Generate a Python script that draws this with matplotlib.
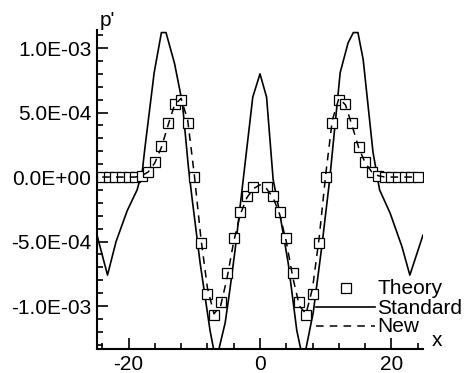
import matplotlib
matplotlib.use("Agg")
import matplotlib.pyplot as plt
from matplotlib.ticker import MultipleLocator, FixedLocator, FixedFormatter

plt.rcParams['font.family'] = ['Liberation Sans', 'DejaVu Sans']

# Standard scheme (solid line), p' in units of 1e-4
std_x = [-24.8, -23.2, -21.9, -20.2, -18.7, -17.9, -17.5, -16.1, -15.0, -14.3,
         -13.0, -11.8, -10.9, -10.3, -9.1, -7.6, -6.7, -5.3, -4.6, -3.8, -2.6,
         -1.1, 0.0, 1.0, 2.0, 3.0, 4.3, 5.6, 6.6, 8.1, 9.4, 10.6, 12.2, 13.4,
         14.2, 14.9, 15.7, 17.2, 18.2, 19.8, 21.6, 22.8, 24.8]
std_p = [-4.5, -7.6, -5.0, -2.6, -1.0, 0.5, 2.3, 8.1, 11.2, 11.2,
         8.8, 5.7, 0.8, -1.8, -6.7, -11.9, -14.3, -11.3, -8.8, -5.7, -0.4,
         6.2, 8.0, 6.2, -0.2, -2.8, -6.7, -11.9, -14.3, -10.5, -5.4, -0.2, 8.1, 10.4,
         11.2, 11.2, 9.1, 1.9, -1.0, -2.8, -5.4, -7.6, -4.5]

# Theory (open squares)
th_x = [-24, -23, -22, -21, -20, -19, -18, -17, -16, -15, -14, -13, -12, -11,
        -10, -9, -8, -7, -6, -5, -4, -3, -2, -1, 1, 2, 3, 4, 5, 6, 7, 8, 9,
        10, 11, 12, 13, 14, 15, 16, 17, 18, 19, 20, 21, 22, 23, 24]
th_p = [0, 0, 0, 0, 0, 0, 0.1, 0.4, 1.2, 2.4, 4.2, 5.7, 6.0, 4.2,
        0, -5.1, -9.1, -10.7, -9.7, -7.4, -4.7, -2.7, -1.5, -0.8, -0.8, -1.5, -2.7, -4.7, -7.4, -9.7, -10.7, -9.1, -5.1,
        0, 4.2, 6.0, 5.7, 4.2, 2.3, 1.2, 0.4, 0.1, 0, 0, 0, 0, 0, 0]

# New scheme (dashed line)
new_x = [-24, -23, -22, -21, -20, -19, -18, -17, -16, -15, -14, -13, -12, -11,
         -10, -9, -8, -7, -6, -5, -4, -3, -2, -1, 0, 1, 2, 3, 4, 5, 6, 7, 8, 9,
         10, 11, 12, 13, 14, 15, 16, 17, 18, 19, 20, 21, 22, 23, 24]
new_p = [0, 0, 0, 0, 0, 0, 0.1, 0.4, 1.1, 2.3, 4.0, 5.6, 6.1, 4.4,
         0.2, -4.7, -8.6, -10.6, -10.0, -7.8, -5.0, -2.9, -1.6, -0.9, -0.6, -0.9, -1.6, -2.9, -5.0, -7.8, -10.0, -10.6, -8.6, -4.7,
         0.2, 4.4, 6.1, 5.6, 4.0, 2.3, 1.1, 0.4, 0.1, 0, 0, 0, 0, 0, 0]

ytick_vals = [-1.0e-3, -5.0e-4, 0.0, 5.0e-4, 1.0e-3]
ytick_labels = ["-1.0E-03", "-5.0E-04", "0.0E+00", "5.0E-04", "1.0E-03"]
xtick_vals = [-20, 0, 20]
xtick_labels = ["-20", "0", "20"]

scale = 1e-4
fig = plt.figure(figsize=(4.68, 3.73), dpi=100)
ax = fig.add_axes([97/468, 1 - 349/373, (423 - 97)/468, (349 - 30)/373])

ax.plot(th_x, [v * scale for v in th_p], linestyle='none', marker='s',
        markersize=7.0, markerfacecolor='white', markeredgecolor='black',
        markeredgewidth=0.9, label='Theory', zorder=3)
ax.plot(std_x, [v * scale for v in std_p], color='black', linewidth=1.2,
        label='Standard', zorder=2)
ax.plot(new_x, [v * scale for v in new_p], color='black', linewidth=1.1,
        linestyle=(0, (5, 4)), label='New', zorder=4)

ax.set_xlim(-24.8, 24.8)
ax.set_ylim(-1.333e-3, 1.14e-3)

ax.yaxis.set_major_locator(FixedLocator(ytick_vals))
ax.yaxis.set_major_formatter(FixedFormatter(ytick_labels))
ax.yaxis.set_minor_locator(MultipleLocator(1e-4))
ax.xaxis.set_major_locator(FixedLocator(xtick_vals))
ax.xaxis.set_major_formatter(FixedFormatter(xtick_labels))
ax.xaxis.set_minor_locator(MultipleLocator(4))

for s in ['top', 'right']:
    ax.spines[s].set_visible(False)
for s in ['left', 'bottom']:
    ax.spines[s].set_linewidth(1.5)

ax.tick_params(which='both', direction='in', width=1.2, labelsize=15)
ax.tick_params(which='major', length=8)
ax.tick_params(which='minor', length=4)
ax.tick_params(axis='y', which='major', pad=4)
ax.tick_params(axis='x', which='major', pad=4)

fig.text(100/468, 1 - 20/373, "p'", fontsize=15, ha='left', va='center')
fig.text(432/468, 1 - 340/373, "x", fontsize=15, ha='left', va='center')

leg = ax.legend(loc='center left', bbox_to_anchor=(316/468, 1 - 308/373),
                bbox_transform=fig.transFigure, frameon=False, fontsize=15,
                borderpad=0, borderaxespad=0, handlelength=2.85,
                handletextpad=0.1, labelspacing=0.0, handleheight=0.5)

fig.savefig("out.png", dpi=100)
